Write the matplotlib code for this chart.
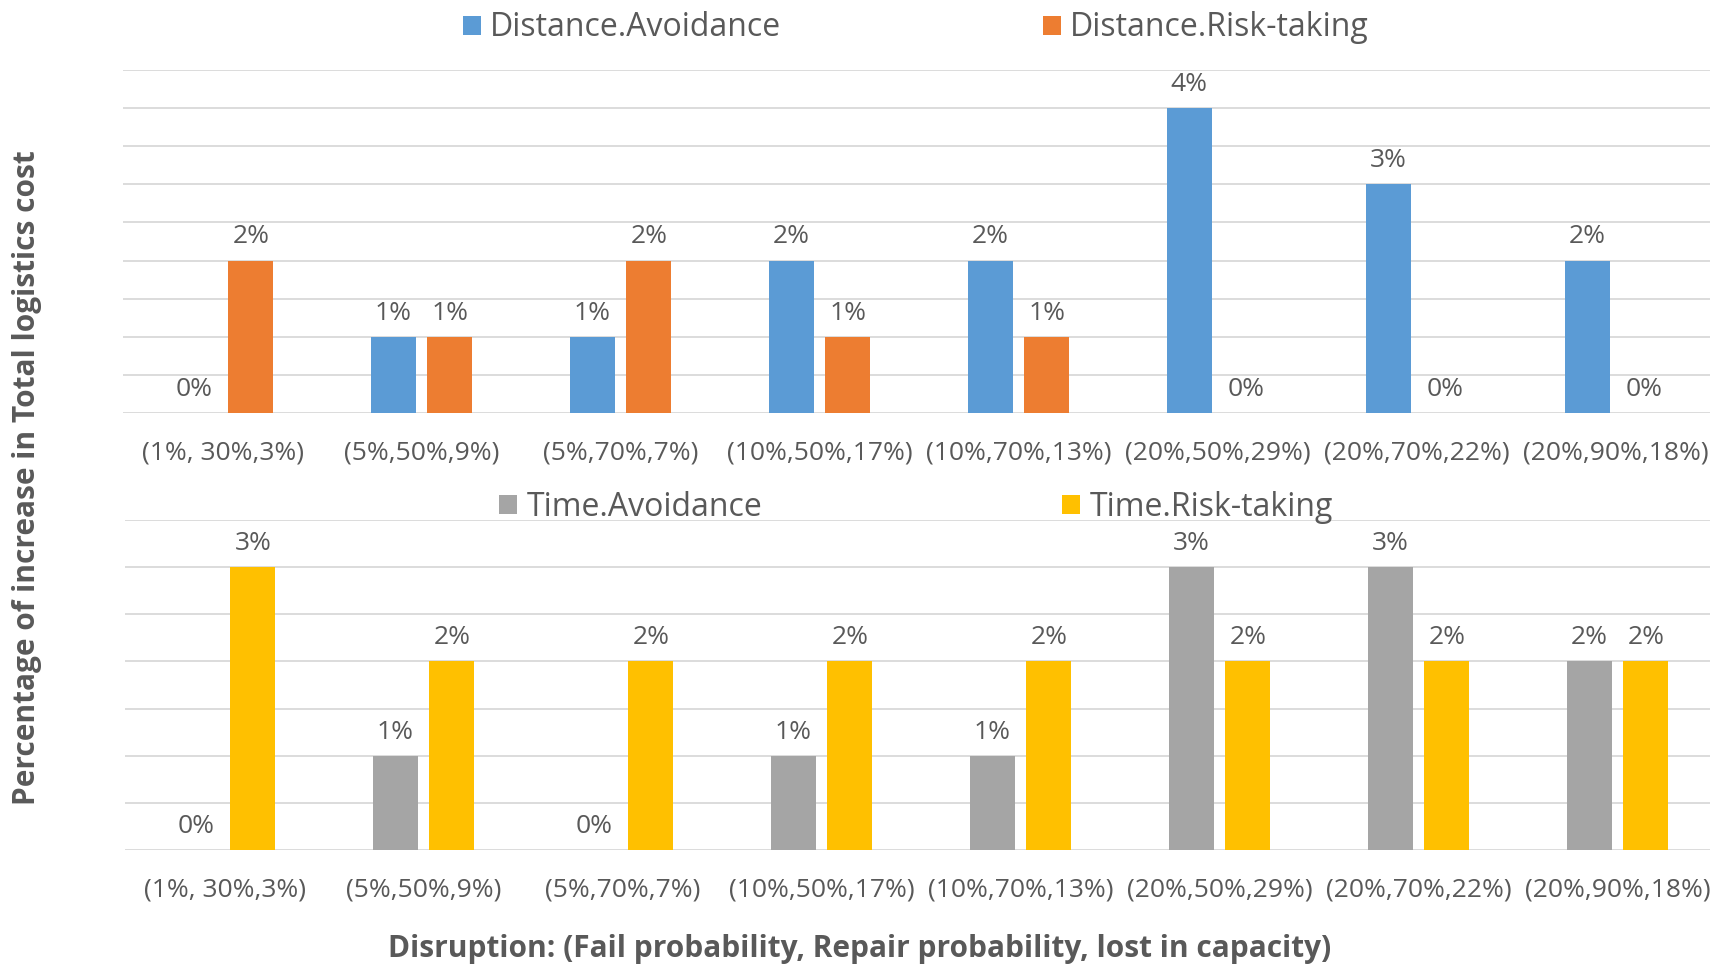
import numpy as np
import matplotlib
matplotlib.use("Agg")
import matplotlib.pyplot as plt

plt.rcParams['font.family'] = ['Open Sans', 'DejaVu Sans']

categories = ['(1%, 30%,3%)', '(5%,50%,9%)', '(5%,70%,7%)', '(10%,50%,17%)',
              '(10%,70%,13%)', '(20%,50%,29%)', '(20%,70%,22%)', '(20%,90%,18%)']
dist_avoid = [0, 1, 1, 2, 2, 4, 3, 2]
dist_risk = [2, 1, 2, 1, 1, 0, 0, 0]
time_avoid = [0, 1, 0, 1, 1, 3, 3, 2]
time_risk = [3, 2, 2, 2, 2, 2, 2, 2]

TXT = '#595959'
GRID = '#D9D9D9'

fig = plt.figure(figsize=(17.1, 9.65), dpi=100)
ax1 = fig.add_axes([123/1710, 1 - 413/965, 1592/1710, 343/965])
ax2 = fig.add_axes([125/1710, 1 - 850/965, 1592/1710, 330/965])

x = np.arange(len(categories))
w = 0.225
off = 0.1425


def panel(ax, a, b, names, colors, ymax, leg_y, colsp):
    r1 = ax.bar(x - off, a, w, color=colors[0], label=names[0], zorder=3)
    r2 = ax.bar(x + off, b, w, color=colors[1], label=names[1], zorder=3)
    for rects, vals in ((r1, a), (r2, b)):
        for r, v in zip(rects, vals):
            ax.annotate('%d%%' % v, (r.get_x() + r.get_width() / 2, v),
                        xytext=(0, 8), textcoords='offset points',
                        ha='center', va='bottom', fontsize=19, color=TXT)
    ax.set_xlim(-0.5, len(categories) - 0.5)
    ax.set_ylim(0, ymax)
    ax.set_yticks(np.arange(0, ymax + 0.01, 0.5))
    ax.set_yticklabels([])
    ax.yaxis.grid(True, color=GRID, lw=1.3, zorder=0)
    ax.tick_params(length=0)
    ax.set_xticks(x)
    ax.set_xticklabels(categories, fontsize=19, color=TXT)
    ax.tick_params(axis='x', pad=20)
    for s in ax.spines.values():
        s.set_visible(False)
    ax.legend(loc='center', bbox_to_anchor=(0.5357, leg_y), bbox_transform=fig.transFigure,
              ncol=2, frameon=False, fontsize=23, labelcolor=TXT,
              handlelength=0.55, handleheight=0.55, handletextpad=0.3,
              columnspacing=colsp, borderpad=0)


panel(ax1, dist_avoid, dist_risk, ['Distance.Avoidance', 'Distance.Risk-taking'],
      ['#5B9BD5', '#ED7D31'], 4.5, 1 - 28/965, 8.2)
panel(ax2, time_avoid, time_risk, ['Time.Avoidance', 'Time.Risk-taking'],
      ['#A5A5A5', '#FFC000'], 3.5, 1 - 507/965, 9.4)

fig.text(27/1710, 1 - 478/965, 'Percentage of increase in Total logistics cost',
         rotation=90, ha='center', va='center', fontsize=21.5, fontweight='bold', color=TXT)
fig.text(860/1710, 1 - 949/965,
         'Disruption: (Fail probability, Repair probability, lost in capacity)',
         ha='center', va='center', fontsize=21.5, fontweight='bold', color=TXT)

fig.savefig('out.png', dpi=100)
